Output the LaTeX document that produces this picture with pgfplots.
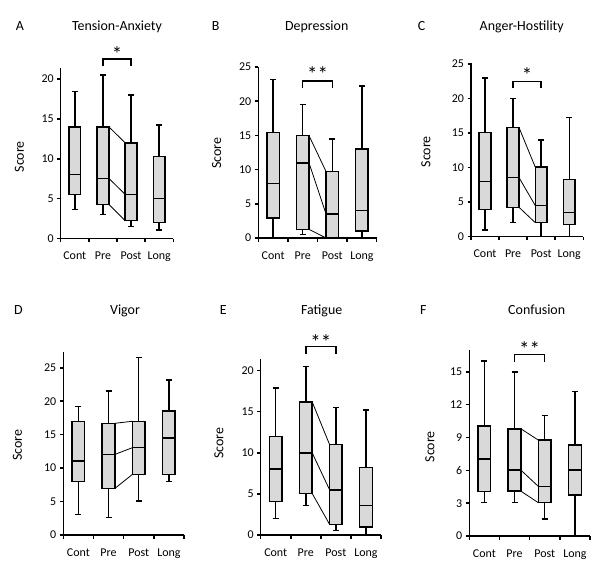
\documentclass[border=0pt]{standalone}
\usepackage{fontspec}
\setmainfont{Carlito}
\usepackage{pgfplots}
\pgfplotsset{compat=1.18}
\usepgfplotslibrary{statistics}
\definecolor{boxgray}{HTML}{D9D9D9}
\pgfplotsset{
  panel/.style={
    scale only axis,
    axis x line=bottom, axis y line=left,
    axis line style={-, line width=1.5bp},
    xmin=0, xmax=4, ymin=0,
    xtick={0,1,2,3,4}, xticklabels={},
    extra x ticks={0.5,1.5,2.5,3.5},
    extra x tick labels={Cont,Pre,Post,Long},
    extra x tick style={major tick length=0pt, xticklabel style={yshift=-10bp}},
    tick align=outside, major tick length=3.5bp,
    tick style={line width=1.5bp, black},
    ticklabel style={font=\fontsize{12}{14}\selectfont},
    /pgf/number format/assume math mode=true,
    clip=false,
    anchor=south west,
  },
}
\newcommand{\bxp}[6]{\addplot[boxplot prepared={draw direction=y, draw position=#1, lower whisker=#2, lower quartile=#3, median=#4, upper quartile=#5, upper whisker=#6, box extend=0.42, whisker extend=0.2}, draw=black, fill=boxgray, line width=1.5bp] coordinates {};}
\newcommand{\conn}[6]{%
  \addplot[line width=0.8bp, black] coordinates {(1.71,#1) (2.29,#2)};
  \addplot[line width=0.8bp, black] coordinates {(1.71,#3) (2.29,#4)};
  \addplot[line width=0.8bp, black] coordinates {(1.71,#5) (2.29,#6)};}
\newcommand{\brk}[4]{%
  \addplot[line width=1.5bp, black] coordinates {(1.5,#1) (1.5,#2) (2.5,#2) (2.5,#1)};
  \node[font=\fontsize{21}{23}\selectfont] at (axis cs:2,#3) {#4};}
\begin{document}
\begin{tikzpicture}
\useasboundingbox (0,0) rectangle (600bp,-572bp);
\tikzset{ttl/.style={font=\fontsize{14}{16}\selectfont, anchor=base}, lab/.style={font=\fontsize{14}{16}\selectfont, rotate=90, anchor=center}}
% Titles
\node[ttl] at (20bp,-30bp) {A};
\node[ttl] at (117bp,-30bp) {Tension-Anxiety};
\node[ttl] at (215.7bp,-30bp) {B};
\node[ttl] at (316.7bp,-30bp) {Depression};
\node[ttl] at (421.7bp,-30bp) {C};
\node[ttl] at (521.7bp,-30bp) {Anger-Hostility};
\node[ttl] at (18.3bp,-314.7bp) {D};
\node[ttl] at (125bp,-314.7bp) {Vigor};
\node[ttl] at (223.3bp,-314.7bp) {E};
\node[ttl] at (321.7bp,-314.7bp) {Fatigue};
\node[ttl] at (423.3bp,-314bp) {F};
\node[ttl] at (536.7bp,-314bp) {Confusion};
% y labels
\node[lab] at (19.3bp,-156.7bp) {Score};
\node[lab] at (216.7bp,-153bp) {Score};
\node[lab] at (426bp,-151.7bp) {Score};
\node[lab] at (17.3bp,-445bp) {Score};
\node[lab] at (219bp,-443bp) {Score};
\node[lab] at (430bp,-446.7bp) {Score};

% A
\begin{axis}[panel, at={(60.7bp,-238.7bp)}, width=112.6bp, height=171bp, ymax=21.4, ytick={0,5,10,15,20}]
\bxp{0.5}{3.63}{5.55}{8.05}{14.0}{18.4}
\bxp{1.5}{3.05}{4.3}{7.55}{14.0}{20.5}
\bxp{2.5}{1.5}{2.25}{5.55}{12.0}{18.0}
\bxp{3.5}{1.08}{2.05}{5.0}{10.3}{14.2}
\conn{14.0}{12.0}{7.55}{5.55}{4.3}{2.25}
\brk{21.67}{22.46}{23.1}{*}
\end{axis}

% B
\begin{axis}[panel, at={(258.3bp,-238bp)}, width=118.4bp, height=171bp, ymax=25, ytick={0,5,10,15,20,25}]
\bxp{0.5}{0}{2.9}{8.0}{15.45}{23.2}
\bxp{1.5}{0.54}{1.27}{11.0}{15.0}{19.5}
\bxp{2.5}{0}{0}{3.5}{9.7}{14.5}
\bxp{3.5}{0}{1.0}{4.0}{13.0}{22.2}
\conn{15.0}{9.7}{11.0}{3.5}{1.27}{0}
\brk{21.9}{22.95}{23.9}{**}
\end{axis}

% C
\begin{axis}[panel, at={(471bp,-236.7bp)}, width=112.3bp, height=173.4bp, ymax=25.1, ytick={0,5,10,15,20,25}]
\bxp{0.5}{1.0}{3.97}{7.98}{15.1}{22.97}
\bxp{1.5}{2.03}{4.26}{8.56}{15.8}{20.0}
\bxp{2.5}{0}{2.03}{4.5}{10.06}{14.0}
\bxp{3.5}{0}{1.74}{3.53}{8.27}{17.26}
\conn{15.8}{10.06}{8.56}{4.5}{4.26}{2.03}
\brk{21.5}{22.5}{23.4}{*}
\end{axis}

% D
\begin{axis}[panel, at={(63.3bp,-535bp)}, width=120.7bp, height=183.3bp, ymax=27.4, ytick={0,5,10,15,20,25}]
\bxp{0.5}{3.04}{8.0}{11.06}{17.0}{19.2}
\bxp{1.5}{2.6}{6.97}{12.05}{16.7}{21.5}
\bxp{2.5}{5.08}{9.06}{13.05}{17.0}{26.5}
\bxp{3.5}{8.0}{9.06}{14.5}{18.5}{23.2}
\conn{16.7}{17.0}{12.05}{13.05}{6.97}{9.06}
\end{axis}

% E
\begin{axis}[panel, at={(260.7bp,-535bp)}, width=120.3bp, height=176bp, ymax=21.4, ytick={0,5,10,15,20}]
\bxp{0.5}{2.0}{4.05}{8.0}{12.0}{17.9}
\bxp{1.5}{3.56}{5.06}{10.0}{16.2}{20.5}
\bxp{2.5}{0.57}{1.3}{5.5}{11.0}{15.5}
\bxp{3.5}{0}{1.0}{3.56}{8.2}{15.2}
\conn{16.2}{11.0}{10.0}{5.5}{5.06}{1.3}
\brk{22.0}{22.9}{23.5}{**}
\end{axis}

% F
\begin{axis}[panel, at={(469.3bp,-536bp)}, width=120.7bp, height=186bp, ymax=17, ytick={0,3,6,9,12,15}]
\bxp{0.5}{3.07}{4.08}{7.03}{10.04}{16.0}
\bxp{1.5}{3.07}{4.1}{6.02}{9.8}{15.0}
\bxp{2.5}{1.55}{3.04}{4.53}{8.76}{11.0}
\bxp{3.5}{0}{3.77}{6.05}{8.3}{13.2}
\conn{9.8}{8.76}{6.02}{4.53}{4.1}{3.04}
\brk{15.94}{16.58}{17.05}{**}
\end{axis}
\end{tikzpicture}
\end{document}
